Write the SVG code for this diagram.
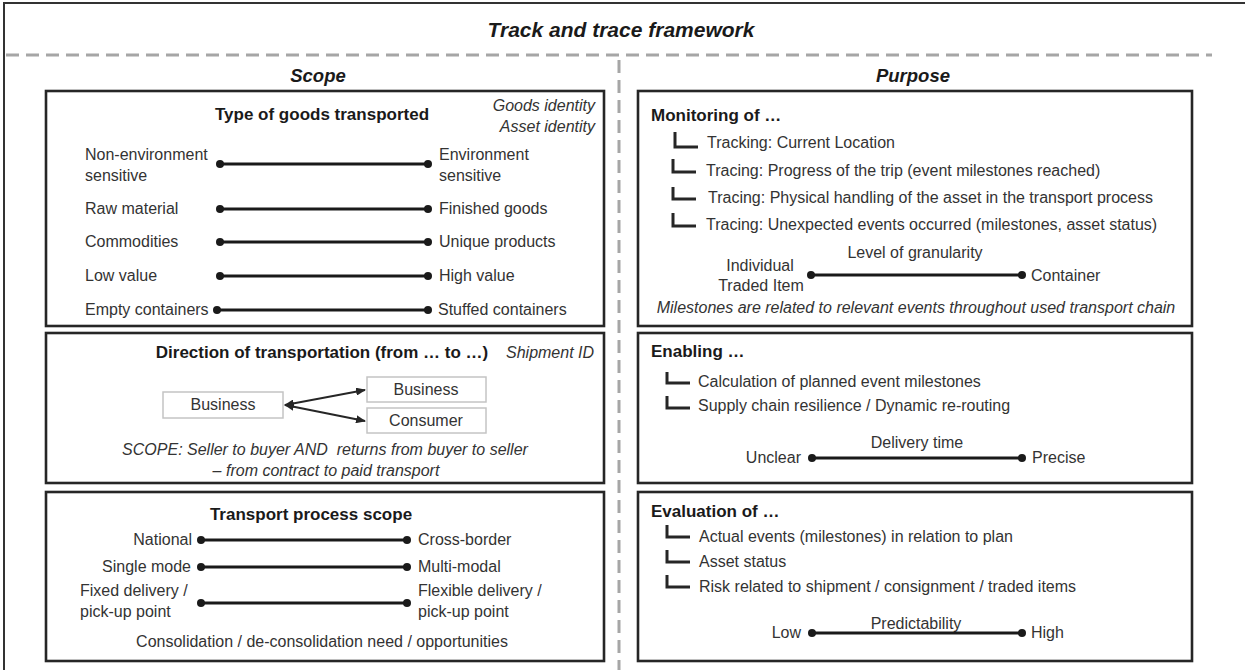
<svg xmlns="http://www.w3.org/2000/svg" width="1245" height="670" viewBox="0 0 1245 670">
<defs>
<style>
text{font-family:"Liberation Sans",Arial,sans-serif;font-size:16px;fill:#333}
.b{font-weight:bold;font-size:17px;fill:#1a1a1a}
.i{font-style:italic}
.h{font-weight:bold;font-style:italic;fill:#1a1a1a}
.m{text-anchor:middle}
.e{text-anchor:end}
.box{fill:none;stroke:#262626;stroke-width:2.6}
.sc{stroke:#1a1a1a;stroke-width:3;marker-start:url(#dot);marker-end:url(#dot)}
.br{fill:none;stroke:#262626;stroke-width:3}
.gb{fill:#fff;stroke:#c4c4c4;stroke-width:1.5}
.dash{stroke:#a6a6a6;stroke-width:3;stroke-dasharray:13 7;fill:none}
.ar{stroke:#262626;stroke-width:1.8;marker-start:url(#ah);marker-end:url(#ah)}
</style>
<marker id="dot" markerUnits="userSpaceOnUse" markerWidth="10" markerHeight="10" refX="5" refY="5" viewBox="0 0 10 10"><circle cx="5" cy="5" r="4" fill="#1a1a1a"/></marker>
<marker id="ah" markerUnits="userSpaceOnUse" markerWidth="10" markerHeight="8" refX="9" refY="4" viewBox="0 0 10 8" orient="auto-start-reverse"><path d="M0,0 L10,4 L0,8 Z" fill="#262626"/></marker>
</defs>
<rect x="0" y="0" width="1245" height="670" fill="#fff"/>
<g id="frame">
<rect x="4" y="3" width="1270" height="700" fill="none" stroke="#333" stroke-width="2"/>
<text class="h m" x="621" y="37" style="font-size:21px">Track and trace framework</text>
<line class="dash" x1="6" y1="55" x2="1212" y2="55"/>
<line class="dash" x1="619" y1="60" x2="619" y2="670"/>
<text class="h m" x="318" y="82" style="font-size:18.5px">Scope</text>
<text class="h m" x="913" y="82" style="font-size:18.5px">Purpose</text>
</g>
<g id="goods">
<rect class="box" x="46" y="91" width="558" height="235"/>
<text class="b m" x="322" y="120">Type of goods transported</text>
<text class="i e" x="595" y="111">Goods identity</text>
<text class="i e" x="595" y="132">Asset identity</text>
<text x="85" y="160">Non-environment</text>
<text x="85" y="181">sensitive</text>
<line class="sc" x1="220" y1="164" x2="428" y2="164"/>
<text x="439" y="160">Environment</text>
<text x="439" y="181">sensitive</text>
<text x="85" y="214">Raw material</text>
<line class="sc" x1="220" y1="209" x2="428" y2="209"/>
<text x="439" y="214">Finished goods</text>
<text x="85" y="247">Commodities</text>
<line class="sc" x1="220" y1="242" x2="428" y2="242"/>
<text x="439" y="247">Unique products</text>
<text x="85" y="281">Low value</text>
<line class="sc" x1="220" y1="276" x2="428" y2="276"/>
<text x="439" y="281">High value</text>
<text x="85" y="315">Empty containers</text>
<line class="sc" x1="217" y1="310" x2="428" y2="310"/>
<text x="438" y="315">Stuffed containers</text>
</g>
<g id="direction">
<rect class="box" x="46" y="333" width="558" height="150"/>
<text class="b m" x="322" y="358">Direction of transportation (from … to …)</text>
<text class="i" x="506" y="358">Shipment ID</text>
<g id="business-from"><rect class="gb" x="163" y="392" width="120" height="26"/><text class="m" x="223" y="410">Business</text></g>
<g id="business-to"><rect class="gb" x="367" y="377" width="119" height="25"/><text class="m" x="426" y="395">Business</text></g>
<g id="consumer-to"><rect class="gb" x="367" y="408" width="119" height="25"/><text class="m" x="426" y="426">Consumer</text></g>
<text class="i m" x="325" y="455" style="white-space:pre">SCOPE: Seller to buyer AND  returns from buyer to seller</text>
<text class="i m" x="326" y="476">– from contract to paid transport</text>
</g>
<g id="process">
<rect class="box" x="46" y="492" width="558" height="169"/>
<text class="b m" x="311" y="520">Transport process scope</text>
<text class="e" x="192" y="545">National</text>
<line class="sc" x1="201" y1="540" x2="407" y2="540"/>
<text x="418" y="545">Cross-border</text>
<text class="e" x="191" y="572">Single mode</text>
<line class="sc" x1="201" y1="567" x2="407" y2="567"/>
<text x="418" y="572">Multi-modal</text>
<text x="80" y="596">Fixed delivery /</text>
<text x="80" y="617">pick-up point</text>
<line class="sc" x1="201" y1="603" x2="407" y2="603"/>
<text x="418" y="596">Flexible delivery /</text>
<text x="418" y="617">pick-up point</text>
<text class="m" x="322" y="647">Consolidation / de-consolidation need / opportunities</text>
</g>
<g id="monitoring">
<rect class="box" x="638" y="91" width="554" height="235"/>
<text class="b" x="651" y="121">Monitoring of …</text>
<path class="br" d="M675,132 V147 H698"/>
<text x="707" y="148">Tracking: Current Location</text>
<path class="br" d="M673,159 V172 H696"/>
<text x="706" y="176">Tracing: Progress of the trip (event milestones reached)</text>
<path class="br" d="M673,187 V199 H696"/>
<text x="708" y="203">Tracing: Physical handling of the asset in the transport process</text>
<path class="br" d="M673,213 V226 H696"/>
<text x="706" y="230">Tracing: Unexpected events occurred (milestones, asset status)</text>
<text class="m" x="915" y="258">Level of granularity</text>
<text class="m" x="760" y="271">Individual</text>
<text class="m" x="761" y="291">Traded Item</text>
<line class="sc" x1="811" y1="275" x2="1022" y2="275"/>
<text x="1031" y="281">Container</text>
<text class="i m" x="916" y="313">Milestones are related to relevant events throughout used transport chain</text>
</g>
<g id="enabling">
<rect class="box" x="638" y="333" width="554" height="150"/>
<text class="b" x="651" y="357">Enabling …</text>
<path class="br" d="M667,372 V383 H690"/>
<text x="698" y="387">Calculation of planned event milestones</text>
<path class="br" d="M667,396 V408 H690"/>
<text x="698" y="411">Supply chain resilience / Dynamic re-routing</text>
<text class="m" x="917" y="448">Delivery time</text>
<text class="e" x="801" y="463">Unclear</text>
<line class="sc" x1="812" y1="458" x2="1022" y2="458"/>
<text x="1032" y="463">Precise</text>
</g>
<g id="evaluation">
<rect class="box" x="638" y="492" width="554" height="169"/>
<text class="b" x="651" y="517">Evaluation of …</text>
<path class="br" d="M667,525 V537 H690"/>
<text x="699" y="542">Actual events (milestones) in relation to plan</text>
<path class="br" d="M667,550 V562 H690"/>
<text x="699" y="567">Asset status</text>
<path class="br" d="M667,575 V587 H690"/>
<text x="699" y="592">Risk related to shipment / consignment / traded items</text>
<text class="m" x="916" y="629">Predictability</text>
<text class="e" x="801" y="638">Low</text>
<line class="sc" x1="812" y1="633" x2="1022" y2="633"/>
<text x="1031" y="638">High</text>
</g>
<g id="connectors">
<line class="ar" x1="285" y1="405" x2="365" y2="390"/>
<line class="ar" x1="285" y1="405" x2="365" y2="421"/>
</g>
</svg>
